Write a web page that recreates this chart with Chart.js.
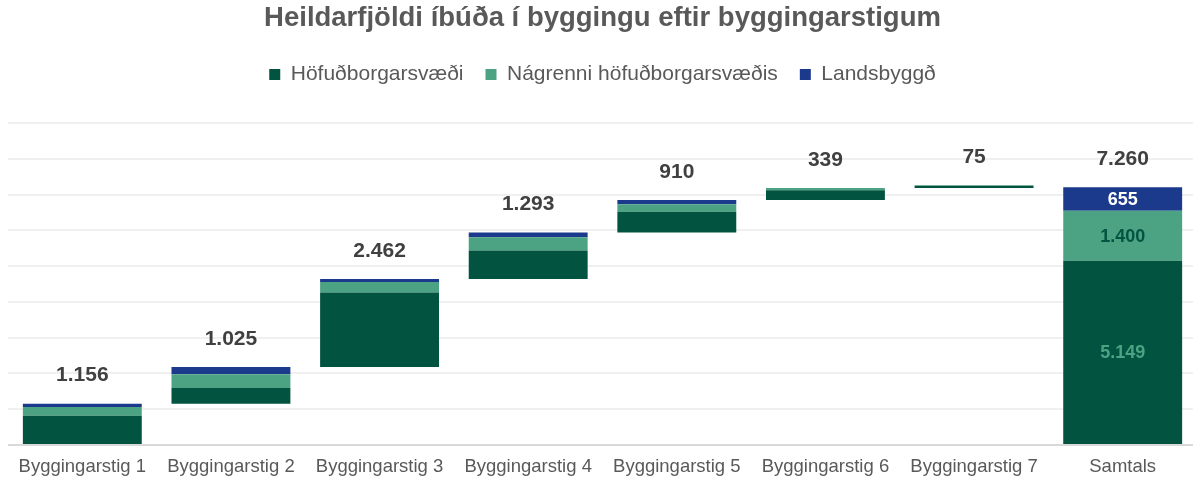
<!DOCTYPE html>
<html>
<head>
<meta charset="utf-8">
<script src="https://cdn.jsdelivr.net/npm/chart.js@4.4.1/dist/chart.umd.min.js"></script>
<style>
  html, body { margin: 0; padding: 0; background: #fff; overflow: hidden; }
  #wrap { width: 1197px; height: 477px; }
</style>
</head>
<body>
<div id="wrap"><canvas id="waterfall"></canvas></div>
<script>
const categories = [
    'Byggingarstig 1',
    'Byggingarstig 2',
    'Byggingarstig 3',
    'Byggingarstig 4',
    'Byggingarstig 5',
    'Byggingarstig 6',
    'Byggingarstig 7',
    'Samtals'
];
// totals shown above each bar
const totals = [1156, 1025, 2462, 1293, 910, 339, 75, 7260];
// segments (last one = Samtals)
const hofudborg = [820, 440, 2080, 790, 580, 275, 60, 5149];
const nagrenni = [240, 380, 295, 375, 210, 60, 15, 1400];
const landsbyggd = [96, 205, 87, 128, 120, 4, 0, 655];

const darkGreen = '#02533f';
const midGreen = '#4ca383';
const navy = '#1b3a8c';

// invisible base so each step starts where the previous one ended
const base = [];
let running = 0;
for (let i = 0; i < totals.length; i++) {
    if (i === totals.length - 1) {
        base.push(0);
    } else {
        base.push(running);
        running += totals[i];
    }
}

function fmt(v) {
    return String(v).replace(/\B(?=(\d{3})+(?!\d))/g, '.');
}

const labelPlugin = {
    id: 'valueLabels',
    afterDatasetsDraw(chart) {
        const ctx = chart.ctx;
        const top = chart.getDatasetMeta(3).data;
        ctx.save();
        ctx.textAlign = 'center';
        ctx.textBaseline = 'middle';
        ctx.font = 'bold 21px "Liberation Sans", Arial, sans-serif';
        ctx.fillStyle = '#404040';
        top.forEach((bar, i) => {
            ctx.fillText(fmt(totals[i]), bar.x, bar.y - 28);
        });
        // numbers inside the Samtals bar
        const last = totals.length - 1;
        const inner = [
            [1, hofudborg, midGreen],
            [2, nagrenni, darkGreen],
            [3, landsbyggd, '#ffffff']
        ];
        ctx.font = 'bold 18px "Liberation Sans", Arial, sans-serif';
        inner.forEach(([idx, arr, col]) => {
            const el = chart.getDatasetMeta(idx).data[last];
            ctx.fillStyle = col;
            ctx.fillText(fmt(arr[last]), el.x, (el.y + el.base) / 2 + 1);
        });
        ctx.restore();
    }
};

// more room between legend and plot
const legendGap = {
    id: 'legendGap',
    beforeInit(chart) {
        const fitLegend = chart.legend.fit;
        chart.legend.fit = function () {
            fitLegend.bind(chart.legend)();
            this.height += 28;
        };
    }
};

const data = {
    labels: categories,
    datasets: [{
        label: 'base',
        data: base,
        backgroundColor: 'rgba(0,0,0,0)',
        borderWidth: 0
    },
    {
        label: 'Höfuðborgarsvæði',
        data: hofudborg,
        backgroundColor: darkGreen,
        borderWidth: 0
    },
    {
        label: 'Nágrenni höfuðborgarsvæðis',
        data: nagrenni,
        backgroundColor: midGreen,
        borderWidth: 0
    },
    {
        label: 'Landsbyggð',
        data: landsbyggd,
        backgroundColor: navy,
        borderWidth: 0
    }]
};

Chart.defaults.font.family = '"Liberation Sans", Arial, sans-serif';
Chart.defaults.color = '#595959';

const configChart = {
    type: 'bar',
    data: data,
    options: {
        responsive: true,
        maintainAspectRatio: false,
        animation: false,
        categoryPercentage: 0.8,
        barPercentage: 1,
        layout: {
            padding: { left: 8, right: 0, top: 0, bottom: 0 }
        },
        scales: {
            x: {
                stacked: true,
                grid: { display: false, drawTicks: false },
                border: { display: false },
                ticks: { font: { size: 18.5 }, color: '#595959', padding: 11 },
                afterFit: (scale) => { scale.height = 32; }
            },
            y: {
                stacked: true,
                min: 0,
                max: 9000,
                ticks: { display: false, stepSize: 1000 },
                border: { display: false },
                grid: {
                    lineWidth: 2,
                    drawTicks: false,
                    color: (c) => c.tick && c.tick.value === 0 ? '#d9d9d9' : '#f0f0f0'
                }
            }
        },
        plugins: {
            tooltip: { enabled: false },
            title: {
                display: true,
                text: 'Heildarfjöldi íbúða í byggingu eftir byggingarstigum',
                color: '#595959',
                font: { size: 27.5, weight: 'bold' },
                padding: { top: 2, bottom: 7 }
            },
            legend: {
                position: 'top',
                labels: {
                    boxWidth: 11,
                    boxHeight: 11,
                    padding: 22,
                    color: '#595959',
                    font: { size: 21 },
                    filter: (item) => item.datasetIndex !== 0
                }
            }
        }
    },
    plugins: [labelPlugin, legendGap]
};

let chart = new Chart(document.getElementById('waterfall'), configChart);
</script>
</body>
</html>
